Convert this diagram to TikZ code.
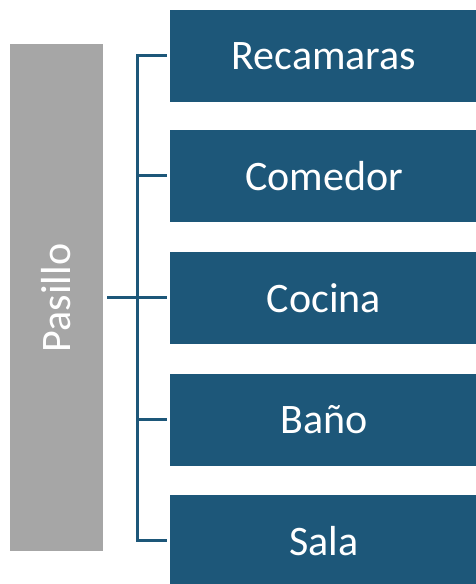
\documentclass[tikz,border=0pt]{standalone}
\usepackage{xcolor}
\usepackage{fontspec}
\setmainfont{Carlito}
\usepackage{tikz}
\usetikzlibrary{positioning}
\definecolor{roomblue}{HTML}{1D5779}
\definecolor{hallgray}{HTML}{A6A6A6}

\begin{document}
\begin{tikzpicture}[x=1pt, y=1pt,
  room/.style={rectangle, fill=roomblue, minimum width=308pt, minimum height=92pt,
               inner sep=0pt, text=white, font=\fontsize{42}{48}\selectfont},
  hall/.style={rectangle, fill=hallgray, minimum width=93pt, minimum height=507pt,
               inner sep=0pt, text=white, font=\fontsize{42}{48}\selectfont},
  link/.style={line width=3pt, color=roomblue, shorten >=3pt}
]
\useasboundingbox (0,0) rectangle (476,584);

\node[hall] (pas) at (56.5,286) {\rotatebox{90}{Pasillo}};

\node[room] (rec) at (324,528) {Recamaras};
\node[room] (com) at (324,408) {Comedor};
\node[room] (coc) at (324,286) {Cocina};
\node[room] (ban) at (324,164) {Baño};
\node[room] (sal) at (324,43)  {Sala};

\coordinate (hub) at (137,286);

\draw[link, shorten <=4pt, shorten >=0pt] (pas.east) -- (hub);
\foreach \r in {rec,com,coc,ban,sal}
  \draw[link] (hub) |- (\r.west);
\end{tikzpicture}
\end{document}
